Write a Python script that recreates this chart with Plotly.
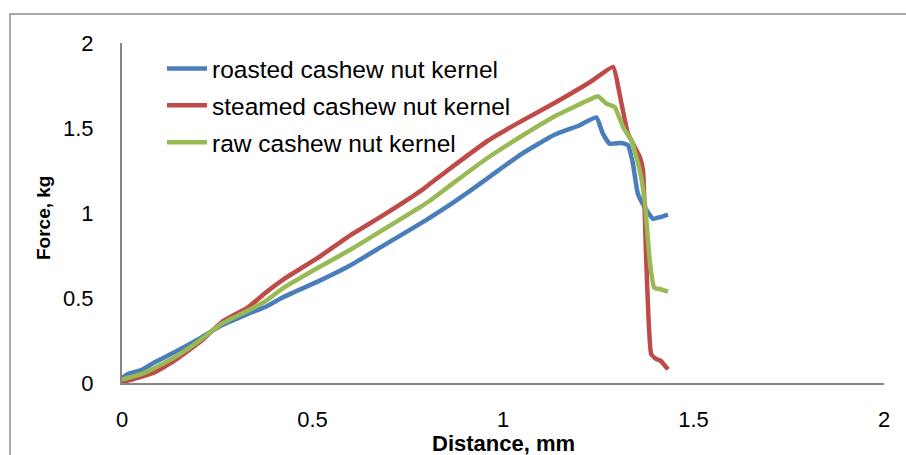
import plotly.graph_objects as go

# ---- data ----
roasted_x = [0.0, 0.017, 0.052, 0.087, 0.139, 0.21, 0.262, 0.332, 0.376, 0.424, 0.512, 0.6, 0.688,
             0.784, 0.81, 0.872, 0.96, 1.047, 1.135, 1.2, 1.245, 1.262, 1.28, 1.311, 1.328, 1.341,
             1.354, 1.372, 1.394, 1.411, 1.433]
roasted_y = [0.03, 0.054, 0.078, 0.123, 0.182, 0.27, 0.339, 0.408, 0.447, 0.506, 0.595, 0.693, 0.811,
             0.939, 0.975, 1.065, 1.205, 1.345, 1.46, 1.515, 1.562, 1.467, 1.408, 1.412, 1.398, 1.29,
             1.113, 1.034, 0.966, 0.975, 0.991]

steamed_x = [0.0, 0.017, 0.052, 0.087, 0.139, 0.21, 0.262, 0.332, 0.376, 0.424, 0.512, 0.6, 0.688,
             0.784, 0.81, 0.872, 0.96, 1.047, 1.135, 1.232, 1.289, 1.306, 1.328, 1.359, 1.3675,
             1.376, 1.389, 1.403, 1.414, 1.433]
steamed_y = [0.0, 0.015, 0.038, 0.064, 0.133, 0.251, 0.359, 0.447, 0.53, 0.61, 0.733, 0.87, 0.99,
             1.13, 1.175, 1.28, 1.425, 1.539, 1.647, 1.775, 1.86, 1.70, 1.467, 1.33, 1.25,
             0.72, 0.17, 0.14, 0.13, 0.08]

raw_x = [0.0, 0.017, 0.052, 0.087, 0.139, 0.21, 0.262, 0.332, 0.376, 0.424, 0.512, 0.6, 0.688,
         0.784, 0.81, 0.872, 0.96, 1.047, 1.135, 1.24, 1.249, 1.271, 1.293, 1.315, 1.337, 1.359,
         1.372, 1.385, 1.397, 1.411, 1.433]
raw_y = [0.02, 0.031, 0.054, 0.09, 0.152, 0.26, 0.349, 0.428, 0.48, 0.56, 0.675, 0.785, 0.905,
         1.037, 1.075, 1.18, 1.325, 1.45, 1.568, 1.68, 1.687, 1.644, 1.624, 1.506, 1.428, 1.25,
         1.07, 0.72, 0.56, 0.553, 0.537]

series_names = ["roasted cashew nut kernel", "steamed cashew nut kernel", "raw cashew nut kernel"]
x_ticks = [0, 0.5, 1, 1.5, 2]
x_tick_labels = ["0", "0.5", "1", "1.5", "2"]
y_ticks = [0, 0.5, 1, 1.5, 2]
y_tick_labels = ["0", "0.5", "1", "1.5", "2"]

colors = ["#4A7EBB", "#BE4B48", "#98B954"]
FONT = "Liberation Sans"

fig = go.Figure()
for i, (xs, ys) in enumerate([(roasted_x, roasted_y), (steamed_x, steamed_y), (raw_x, raw_y)]):
    fig.add_trace(go.Scatter(x=xs, y=ys, mode="lines", name=series_names[i],
                             legendgroup=f"g{i}",
                             line=dict(color=colors[i], width=4.5, shape="spline", smoothing=0.4)))

W, H = 906, 455
ml, mr, mt, mb = 122, 22, 43, 72
pw, ph = W - ml - mr, H - mt - mb

def px_x(p):
    return (p - ml) / pw

def px_y(p):
    return (H - mb - p) / ph

fig.update_layout(
    width=W, height=H,
    margin=dict(l=ml, r=mr, t=mt, b=mb, autoexpand=False),
    paper_bgcolor="white", plot_bgcolor="white",
    font=dict(family=FONT, color="#000000"),
    showlegend=True,
    legend=dict(x=px_x(162), y=px_y(46), xanchor="left", yanchor="top",
                bgcolor="rgba(0,0,0,0)", font=dict(size=24.5, family=FONT),
                tracegroupgap=2, itemwidth=40),
    xaxis=dict(range=[0, 2], tickvals=x_ticks, ticktext=x_tick_labels, showgrid=False,
               zeroline=False, showline=True, linecolor="#868686", linewidth=2,
               ticks="", tickfont=dict(size=22, family=FONT), ticklabelstandoff=16,
               automargin=False),
    yaxis=dict(range=[0, 2], tickvals=y_ticks, ticktext=y_tick_labels, showgrid=False,
               zeroline=False, showline=True, linecolor="#868686", linewidth=2,
               ticks="", tickfont=dict(size=22, family=FONT), ticklabelstandoff=22,
               automargin=False),
    shapes=[dict(type="rect", xref="paper", yref="paper",
                 x0=px_x(10), y0=px_y(14), x1=px_x(930), y1=px_y(480),
                 line=dict(color="#8C8C8C", width=1.5), fillcolor="rgba(0,0,0,0)", layer="below")],
    annotations=[
        dict(text="<b>Distance, mm</b>", xref="paper", yref="paper", x=px_x(503), y=px_y(443),
             showarrow=False, font=dict(size=22, family=FONT), xanchor="center", yanchor="middle"),
        dict(text="<b>Force, kg</b>", xref="paper", yref="paper", x=px_x(44), y=px_y(218),
             showarrow=False, textangle=-90, font=dict(size=19, family=FONT),
             xanchor="center", yanchor="middle"),
    ],
)

fig.write_html("out.html", config={"displayModeBar": False},
               post_script="document.body.style.margin='0px';document.body.style.overflow='hidden';")
